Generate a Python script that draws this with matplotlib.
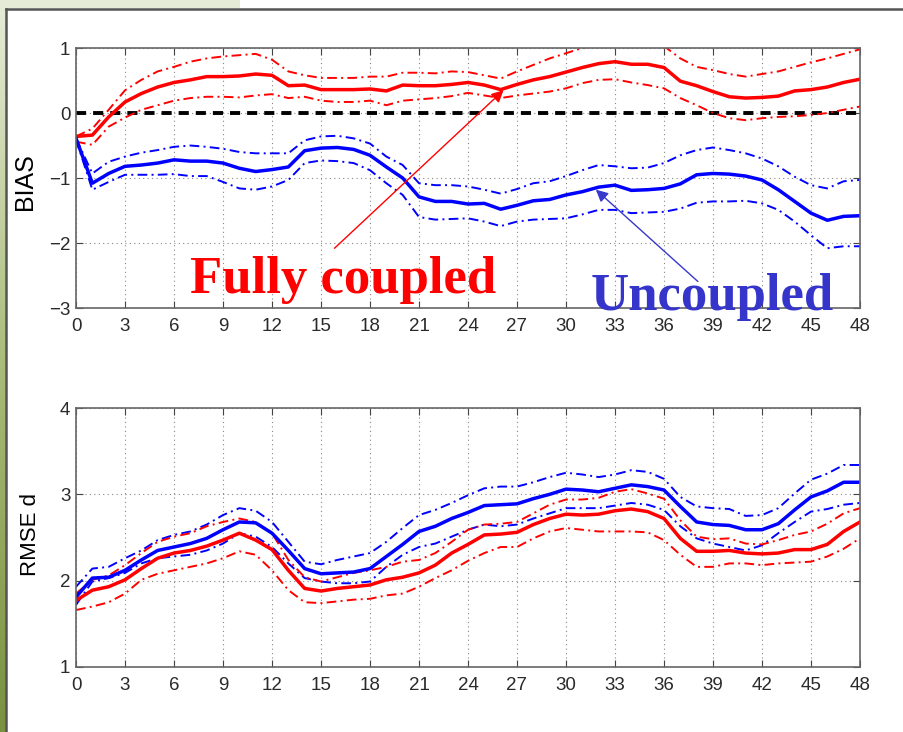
import numpy as np
import matplotlib
matplotlib.use("Agg")
import matplotlib.pyplot as plt
from matplotlib.patches import Rectangle

# forecast hours
hours = list(range(0, 49))
xticks = list(range(0, 49, 3))

# BIAS - fully coupled (red)
bias_fc = [-0.36, -0.34, -0.06, 0.17, 0.30, 0.40, 0.47, 0.51, 0.56, 0.56, 0.57, 0.60, 0.58,
           0.42, 0.43, 0.36, 0.36, 0.36, 0.37, 0.34, 0.43, 0.42, 0.42, 0.44, 0.47,
           0.43, 0.36, 0.44, 0.51, 0.56, 0.63, 0.70, 0.76, 0.79, 0.75, 0.75, 0.70,
           0.49, 0.42, 0.33, 0.25, 0.23, 0.24, 0.26, 0.34, 0.36, 0.40, 0.47, 0.52]
bias_fc_hi = [-0.36, -0.24, 0.05, 0.35, 0.51, 0.64, 0.71, 0.79, 0.84, 0.87, 0.89, 0.91, 0.82,
              0.64, 0.58, 0.54, 0.54, 0.54, 0.56, 0.56, 0.62, 0.62, 0.61, 0.64, 0.63,
              0.58, 0.53, 0.64, 0.74, 0.84, 0.92, 1.00, 1.06, 1.10, 1.10, 1.08, 1.03,
              0.84, 0.71, 0.66, 0.60, 0.56, 0.60, 0.64, 0.71, 0.78, 0.84, 0.91, 0.98]
bias_fc_lo = [-0.44, -0.49, -0.21, -0.07, 0.05, 0.12, 0.19, 0.23, 0.25, 0.25, 0.24, 0.27, 0.29,
              0.23, 0.25, 0.19, 0.17, 0.17, 0.19, 0.12, 0.19, 0.21, 0.23, 0.26, 0.31,
              0.27, 0.23, 0.27, 0.30, 0.33, 0.38, 0.46, 0.51, 0.52, 0.47, 0.43, 0.38,
              0.23, 0.12, 0.00, -0.08, -0.11, -0.08, -0.06, -0.05, -0.03, 0.00, 0.05, 0.10]

# BIAS - uncoupled (blue)
bias_uc = [-0.39, -1.08, -0.93, -0.82, -0.80, -0.77, -0.72, -0.74, -0.74, -0.77, -0.85, -0.90, -0.87,
           -0.83, -0.58, -0.54, -0.53, -0.56, -0.65, -0.83, -1.00, -1.29, -1.36, -1.36, -1.40,
           -1.39, -1.48, -1.42, -1.35, -1.33, -1.26, -1.21, -1.14, -1.11, -1.19, -1.18, -1.16,
           -1.09, -0.95, -0.93, -0.94, -0.97, -1.03, -1.18, -1.36, -1.54, -1.65, -1.59, -1.58]
bias_uc_hi = [-0.39, -0.93, -0.75, -0.67, -0.61, -0.57, -0.52, -0.50, -0.52, -0.55, -0.60, -0.62, -0.62,
              -0.62, -0.42, -0.36, -0.35, -0.39, -0.47, -0.67, -0.80, -1.08, -1.11, -1.11, -1.13,
              -1.18, -1.24, -1.17, -1.08, -1.05, -0.97, -0.88, -0.80, -0.82, -0.85, -0.84, -0.77,
              -0.65, -0.57, -0.53, -0.57, -0.62, -0.70, -0.82, -0.98, -1.11, -1.16, -1.05, -1.03]
bias_uc_lo = [-0.41, -1.18, -1.06, -0.95, -0.95, -0.95, -0.94, -0.97, -0.97, -1.06, -1.16, -1.18, -1.13,
              -1.03, -0.77, -0.73, -0.74, -0.77, -0.88, -1.08, -1.26, -1.60, -1.64, -1.63, -1.62,
              -1.67, -1.74, -1.67, -1.64, -1.63, -1.62, -1.56, -1.49, -1.49, -1.54, -1.53, -1.52,
              -1.47, -1.38, -1.36, -1.36, -1.35, -1.39, -1.49, -1.67, -1.88, -2.08, -2.05, -2.05]

# RMSE - uncoupled (blue)
rmse_uc = [1.81, 2.03, 2.04, 2.12, 2.24, 2.35, 2.39, 2.43, 2.49, 2.59, 2.68, 2.67, 2.55,
           2.35, 2.14, 2.08, 2.09, 2.10, 2.14, 2.28, 2.42, 2.57, 2.63, 2.72, 2.79,
           2.87, 2.88, 2.89, 2.95, 3.00, 3.06, 3.05, 3.03, 3.07, 3.11, 3.09, 3.05,
           2.86, 2.68, 2.65, 2.64, 2.59, 2.59, 2.66, 2.82, 2.97, 3.04, 3.14, 3.14]
rmse_uc_hi = [1.93, 2.14, 2.16, 2.26, 2.35, 2.47, 2.53, 2.57, 2.65, 2.76, 2.84, 2.81, 2.68,
              2.45, 2.22, 2.19, 2.24, 2.28, 2.32, 2.45, 2.61, 2.76, 2.82, 2.90, 2.99,
              3.07, 3.09, 3.09, 3.14, 3.20, 3.25, 3.23, 3.20, 3.23, 3.28, 3.26, 3.18,
              2.97, 2.86, 2.84, 2.83, 2.75, 2.76, 2.84, 3.01, 3.17, 3.24, 3.34, 3.34]
rmse_uc_lo = [1.72, 1.99, 2.03, 2.09, 2.20, 2.26, 2.28, 2.30, 2.35, 2.43, 2.55, 2.51, 2.39,
              2.20, 2.03, 1.99, 1.97, 1.97, 1.99, 2.16, 2.30, 2.39, 2.43, 2.51, 2.59,
              2.65, 2.63, 2.65, 2.72, 2.78, 2.84, 2.84, 2.84, 2.87, 2.90, 2.88, 2.82,
              2.63, 2.49, 2.43, 2.39, 2.35, 2.41, 2.55, 2.68, 2.80, 2.83, 2.88, 2.90]

# RMSE - fully coupled (red)
rmse_fc = [1.77, 1.89, 1.93, 2.01, 2.14, 2.26, 2.32, 2.35, 2.40, 2.47, 2.55, 2.47, 2.36,
           2.12, 1.91, 1.88, 1.91, 1.93, 1.95, 2.01, 2.04, 2.09, 2.18, 2.32, 2.42,
           2.53, 2.54, 2.56, 2.65, 2.72, 2.77, 2.76, 2.77, 2.81, 2.83, 2.80, 2.72,
           2.49, 2.34, 2.34, 2.35, 2.32, 2.31, 2.32, 2.36, 2.36, 2.42, 2.57, 2.68]
rmse_fc_hi = [1.85, 2.01, 2.06, 2.18, 2.32, 2.45, 2.51, 2.55, 2.63, 2.68, 2.72, 2.68, 2.55,
              2.24, 2.04, 1.99, 2.04, 2.09, 2.12, 2.16, 2.22, 2.24, 2.32, 2.45, 2.59,
              2.65, 2.66, 2.68, 2.78, 2.88, 2.94, 2.94, 2.96, 3.03, 3.06, 3.01, 2.95,
              2.70, 2.51, 2.48, 2.49, 2.43, 2.42, 2.47, 2.53, 2.57, 2.66, 2.78, 2.84]
rmse_fc_lo = [1.66, 1.70, 1.75, 1.85, 2.01, 2.08, 2.12, 2.16, 2.20, 2.26, 2.34, 2.30, 2.12,
              1.89, 1.75, 1.74, 1.76, 1.78, 1.79, 1.83, 1.85, 1.93, 2.03, 2.12, 2.23,
              2.32, 2.39, 2.39, 2.49, 2.57, 2.61, 2.59, 2.57, 2.57, 2.57, 2.56, 2.47,
              2.30, 2.16, 2.16, 2.20, 2.20, 2.18, 2.20, 2.21, 2.22, 2.28, 2.37, 2.49]

RED = "#ff0000"
BLUE = "#0000ff"
DASHDOT = (0, (5, 2.2, 1, 2.2))
SERIF = ["Liberation Serif", "DejaVu Serif"]

plt.rcParams["font.family"] = ["Liberation Sans", "DejaVu Sans"]

fig = plt.figure(figsize=(9.04, 7.32), dpi=100)
fig.patch.set_facecolor("white")

# slide-like background: green strip on the left, frame line
bg = fig.add_axes([0, 0, 1, 1], zorder=-5)
bg.set_xlim(0, 904)
bg.set_ylim(732, 0)
bg.axis("off")
grad = np.linspace(0, 1, 256).reshape(-1, 1)
cmap = matplotlib.colors.LinearSegmentedColormap.from_list("g", ["#e6ebd6", "#a9bb78", "#7a9140"])
bg.imshow(grad, cmap=cmap, extent=(0, 6, 732, 8), aspect="auto")
bg.add_patch(Rectangle((0, 0), 240, 8, color="#e6ebd8", lw=0))
bg.plot([6, 904], [9, 9], color="#555555", lw=1.8)
bg.plot([6, 6], [9, 732], color="#555555", lw=1.8)


def style_axes(ax, ylim, yticks):
    ax.set_xlim(0, 48)
    ax.set_ylim(*ylim)
    ax.set_xticks(xticks)
    ax.set_yticks(yticks)
    ax.grid(True, linestyle=(0, (1, 3)), color="#888888", lw=0.8)
    ax.tick_params(direction="in", top=True, right=True, labelsize=13.5, length=5,
                   color="#444444", labelcolor="#2a2a2a")
    ax.tick_params(axis="x", pad=7)
    ax.tick_params(axis="y", pad=4)
    for s in ax.spines.values():
        s.set_color("#666666")
        s.set_linewidth(1.2)


# top panel: BIAS
ax1 = fig.add_axes([0.0841, 0.5792, 0.8672, 0.3552])
ax1.axhline(0, color="black", lw=2.8, linestyle=(0, (2.6, 1.8)), zorder=2)
ax1.plot(hours, bias_fc_hi, color=RED, lw=1.4, linestyle=DASHDOT)
ax1.plot(hours, bias_fc_lo, color=RED, lw=1.4, linestyle=DASHDOT)
ax1.plot(hours, bias_fc, color=RED, lw=2.5)
ax1.plot(hours, bias_uc_hi, color=BLUE, lw=1.4, linestyle=DASHDOT)
ax1.plot(hours, bias_uc_lo, color=BLUE, lw=1.4, linestyle=DASHDOT)
ax1.plot(hours, bias_uc, color=BLUE, lw=2.5)
style_axes(ax1, (-3, 1), [-3, -2, -1, 0, 1])
ax1.set_yticklabels(["\u22123", "\u22122", "\u22121", "0", "1"])
ax1.set_ylabel("BIAS", fontsize=18)
ax1.yaxis.set_label_coords(-0.0497, 0.485)

ax1.annotate("", xy=(26.3, 0.38), xytext=(15.7, -2.11),
             arrowprops=dict(arrowstyle="-|>", color=RED, lw=1.0, mutation_scale=18))
ax1.annotate("", xy=(31.7, -1.15), xytext=(38.2, -2.62),
             arrowprops=dict(arrowstyle="-|>", color="#3838cc", lw=1.0, mutation_scale=18))
ax1.text(16.38, -2.77, "Fully coupled", color=RED, fontsize=38, fontweight="bold",
         family=SERIF, ha="center", va="baseline", clip_on=False, zorder=5)
ax1.text(38.97, -3.03, "Uncoupled", color="#3535cc", fontsize=38, fontweight="bold",
         family=SERIF, ha="center", va="baseline", clip_on=False, zorder=5)

# bottom panel: RMSE
ax2 = fig.add_axes([0.0841, 0.0888, 0.8672, 0.3538])
ax2.plot(hours, rmse_uc_hi, color=BLUE, lw=1.4, linestyle=DASHDOT)
ax2.plot(hours, rmse_uc_lo, color=BLUE, lw=1.4, linestyle=DASHDOT)
ax2.plot(hours, rmse_fc_hi, color=RED, lw=1.4, linestyle=DASHDOT)
ax2.plot(hours, rmse_fc_lo, color=RED, lw=1.4, linestyle=DASHDOT)
ax2.plot(hours, rmse_uc, color=BLUE, lw=2.5)
ax2.plot(hours, rmse_fc, color=RED, lw=2.5)
style_axes(ax2, (1, 4), [1, 2, 3, 4])
ax2.set_ylabel("RMSE d", fontsize=16)
ax2.yaxis.set_label_coords(-0.0446, 0.51)

fig.savefig("out.png", dpi=100)
